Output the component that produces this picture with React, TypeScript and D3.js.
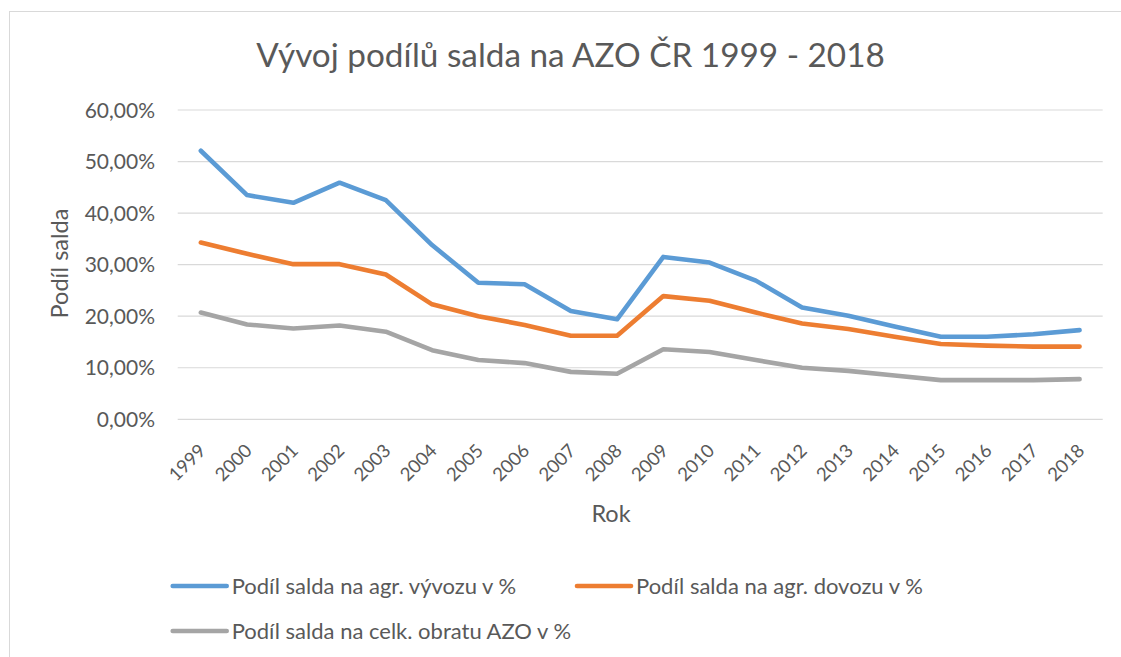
import React from "react";
import * as d3 from "d3";

const years = ["1999","2000","2001","2002","2003","2004","2005","2006","2007","2008","2009","2010","2011","2012","2013","2014","2015","2016","2017","2018"];
const vyvoz = [52.1,43.5,42.0,45.9,42.5,33.8,26.5,26.2,21.0,19.4,31.5,30.4,26.9,21.7,20.1,18.0,16.0,16.0,16.5,17.3];
const dovoz = [34.3,32.1,30.1,30.1,28.1,22.3,20.0,18.3,16.2,16.2,23.9,23.0,20.7,18.6,17.5,16.0,14.6,14.3,14.1,14.1];
const obrat = [20.7,18.4,17.6,18.2,17.0,13.4,11.5,10.9,9.2,8.85,13.6,13.05,11.5,10.0,9.4,8.5,7.6,7.6,7.6,7.8];
const yTicks = [0,10,20,30,40,50,60];
const seriesNames = ["Podíl salda na agr. vývozu v %","Podíl salda na agr. dovozu v %","Podíl salda na celk. obratu AZO v %"];
const colors = ["#5B9BD5","#ED7D31","#A5A5A5"];
const title = "Vývoj podílů salda na AZO ČR 1999 - 2018";

const FONT = "Lato, 'Open Sans', sans-serif";
const TXT = "#595959";

export default function App() {
  const W = 1121, H = 657;
  const left = 177.7, right = 1102.7, top = 110, bottom = 419.3;
  const x = d3.scaleBand<string>().domain(years).range([left, right]).padding(0);
  const cx = (yr: string) => (x(yr) as number) + x.bandwidth() / 2;
  const y = d3.scaleLinear().domain([0, 60]).range([bottom, top]);
  const series = [vyvoz, dovoz, obrat];
  const line = d3.line<number>().x((_, i) => cx(years[i])).y(v => y(v));
  const fmt = (v: number) => v.toFixed(2).replace(".", ",") + "%";

  const legendItems = [
    { x: 172.7, y: 586 },
    { x: 577, y: 586 },
    { x: 172.7, y: 631 },
  ];

  return (
    <svg width={W} height={H} style={{ position: "absolute", left: 0, top: 0, background: "#fff" }} fontFamily={FONT}>
      <rect x={0} y={0} width={W} height={H} fill="#fff" />
      <rect x={9.5} y={11.5} width={W + 20} height={H + 20} fill="#fff" stroke="#D9D9D9" strokeWidth={1} />
      <text x={570.5} y={67} textAnchor="middle" fontSize={33.3} fill={TXT}>{title}</text>
      {yTicks.map(t => (
        <g key={t}>
          <line x1={left} x2={right} y1={y(t)} y2={y(t)} stroke="#D9D9D9" strokeWidth={1.2} />
          <text x={155} y={y(t) + 7.5} textAnchor="end" fontSize={21} fill={TXT}>{fmt(t)}</text>
        </g>
      ))}
      <text transform={`translate(68,263.5) rotate(-90)`} textAnchor="middle" fontSize={23.5} fill={TXT}>Podíl salda</text>
      {years.map(yr => (
        <text key={yr} transform={`translate(${cx(yr) + 6},452) rotate(-45)`} textAnchor="end" fontSize={18.5} fill={TXT}>{yr}</text>
      ))}
      <text x={611} y={522} textAnchor="middle" fontSize={23.5} fill={TXT}>Rok</text>
      {series.map((s, i) => (
        <path key={i} d={line(s) as string} fill="none" stroke={colors[i]} strokeWidth={4.6} strokeLinejoin="round" strokeLinecap="round" />
      ))}
      {legendItems.map((li, i) => (
        <g key={i}>
          <line x1={li.x} x2={li.x + 54} y1={li.y} y2={li.y} stroke={colors[i]} strokeWidth={4.6} strokeLinecap="round" />
          <text x={li.x + 59} y={li.y + 7.5} fontSize={22} fill={TXT}>{seriesNames[i]}</text>
        </g>
      ))}
    </svg>
  );
}
